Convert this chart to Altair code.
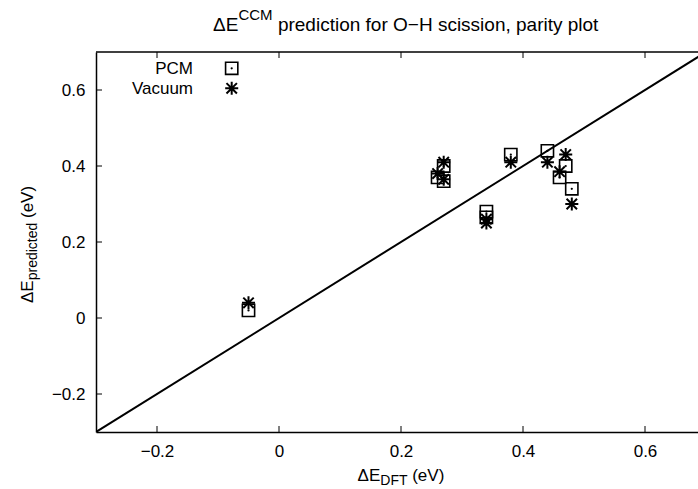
import altair as alt
import pandas as pd

# ---- data ----
pcm_x = [-0.05, 0.26, 0.27, 0.27, 0.34, 0.34, 0.38, 0.44, 0.46, 0.47, 0.48]
pcm_y = [0.02, 0.37, 0.40, 0.36, 0.28, 0.265, 0.43, 0.44, 0.37, 0.40, 0.34]
vac_x = [-0.05, 0.26, 0.27, 0.27, 0.34, 0.34, 0.38, 0.44, 0.46, 0.47, 0.48]
vac_y = [0.04, 0.38, 0.41, 0.365, 0.26, 0.25, 0.41, 0.41, 0.385, 0.43, 0.30]
diag = [-0.3, 0.7]
xticks = [-0.2, 0.0, 0.2, 0.4, 0.6]
yticks = [-0.2, 0.0, 0.2, 0.4, 0.6]

FONT = "Liberation Sans"
W, H = 602, 380
xscale = alt.Scale(domain=[-0.3, -0.3 + W / 610.0], nice=False, zero=False)
yscale = alt.Scale(domain=[-0.3, 0.7], nice=False, zero=False)

lab = "datum.value == 0 ? '0' : format(datum.value, '.1f')"
xaxis = alt.Axis(values=xticks, labelExpr=lab, title=None, grid=False, ticks=False, tickSize=0,
                 domain=True, domainColor="black", domainWidth=1.5, labelPadding=11,
                 labelFont=FONT, labelFontSize=17, labelColor="black")
yaxis = alt.Axis(values=yticks, labelExpr=lab, title=None, grid=False, ticks=False, tickSize=0,
                 domain=True, domainColor="black", domainWidth=1.5, labelPadding=11,
                 labelFont=FONT, labelFontSize=17, labelColor="black")

X = lambda: alt.X("x:Q", scale=xscale, axis=xaxis)
Y = lambda: alt.Y("y:Q", scale=yscale, axis=yaxis)

pcm = pd.DataFrame({"x": pcm_x, "y": pcm_y})
vac = pd.DataFrame({"x": vac_x, "y": vac_y})
dd = pd.DataFrame({"x": diag, "y": diag})

ASTER = "M-1,0L1,0M0,-1L0,1M-0.8,-0.8L0.8,0.8M-0.8,0.8L0.8,-0.8"

line = alt.Chart(dd).mark_line(color="black", strokeWidth=2, clip=True).encode(x=X(), y=Y())
sq = alt.Chart(pcm).mark_point(shape="square", filled=False, size=150, color="black",
                               strokeWidth=1.6, opacity=1).encode(x=X(), y=Y())
dot = alt.Chart(pcm).mark_point(shape="circle", filled=True, size=5, color="black",
                                opacity=1).encode(x=X(), y=Y())
ast = alt.Chart(vac).mark_point(shape=ASTER, filled=False, size=170, color="black",
                                strokeWidth=2, opacity=1).encode(x=X(), y=Y())

xt = pd.DataFrame({"x": xticks})
yt = pd.DataFrame({"y": yticks})
tick_b = alt.Chart(xt).mark_rule(color="black", strokeWidth=1).encode(x=X(), y=alt.value(H), y2=alt.value(H - 6))
tick_t = alt.Chart(xt).mark_rule(color="black", strokeWidth=1).encode(x=X(), y=alt.value(0), y2=alt.value(6))
tick_l = alt.Chart(yt).mark_rule(color="black", strokeWidth=1).encode(y=Y(), x=alt.value(0), x2=alt.value(6))
top = alt.Chart(alt.Data(values=[{}])).mark_rule(color="black", strokeWidth=1.5).encode(
    x=alt.value(0), x2=alt.value(W), y=alt.value(0))


def txt(s, x, y, size=17, align="left", angle=0):
    kw = dict(text=s, font=FONT, fontSize=size, align=align, baseline="alphabetic", color="black")
    if angle:
        kw["angle"] = angle
    return alt.Chart(alt.Data(values=[{}])).mark_text(**kw).encode(x=alt.value(x), y=alt.value(y))


texts = [
    # title
    txt("ΔE", 117, -21.5, 19),
    txt("CCM", 142.4, -32, 15),
    txt("prediction for O−H scission, parity plot", 181.9, -21.5, 19),
    # x title
    txt("ΔE", 261.6, 429, 17),
    txt("DFT", 284.3, 433, 14),
    txt("(eV)", 316.2, 429, 17),
    # y title
    txt("ΔE", -63, 251, 17, angle=270),
    txt("predicted", -59, 228.3, 14, angle=270),
    txt("(eV)", -63, 166, 17, angle=270),
    # legend
    txt("PCM", 97, 22, 17, align="right"),
    txt("Vacuum", 97, 42, 17, align="right"),
]

leg_sq = alt.Chart(alt.Data(values=[{}])).mark_point(shape="square", filled=False, size=150, color="black",
                                                     strokeWidth=1.6, opacity=1).encode(x=alt.value(135.7), y=alt.value(16.3))
leg_dot = alt.Chart(alt.Data(values=[{}])).mark_point(shape="circle", filled=True, size=5, color="black",
                                                      opacity=1).encode(x=alt.value(135.7), y=alt.value(16.3))
leg_ast = alt.Chart(alt.Data(values=[{}])).mark_point(shape=ASTER, filled=False, size=170, color="black",
                                                      strokeWidth=2, opacity=1).encode(x=alt.value(135.7), y=alt.value(36.3))

chart = alt.layer(line, sq, dot, ast, tick_b, tick_t, tick_l, top, leg_sq, leg_dot, leg_ast, *texts).properties(
    width=W, height=H,
    autosize=alt.AutoSizeParams(type="none"),
    padding={"left": 96, "top": 52, "right": 0, "bottom": 57},
    background="white",
).configure_view(stroke=None)

chart.save("out.html", embed_options={"renderer": "svg", "actions": False})
